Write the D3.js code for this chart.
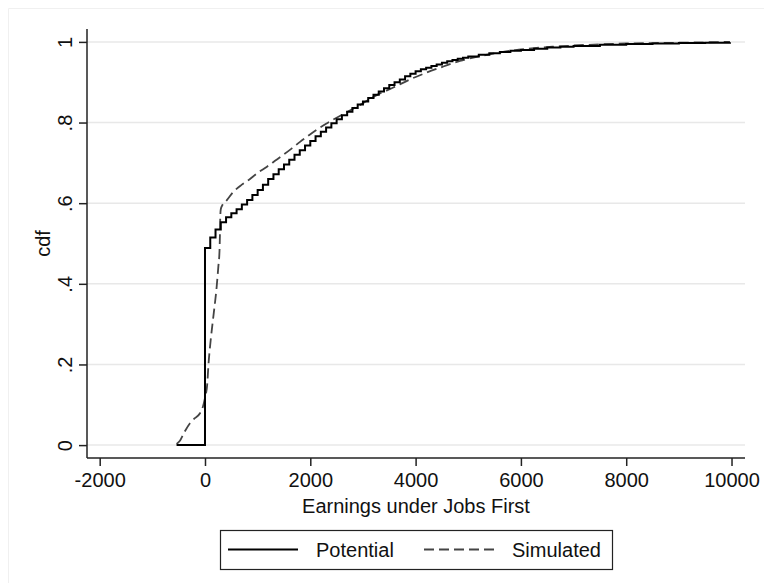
<!DOCTYPE html>
<html>
<head>
<meta charset="utf-8">
<script src="https://cdn.jsdelivr.net/npm/d3@7"></script>
<style>
  body { margin: 0; background: #fff; }
  svg { display: block; font-family: "Liberation Sans", Arial, sans-serif; }
</style>
</head>
<body>
<div id="chart"></div>
<script>
// potential earnings cdf (step function)
var potentialX = [-540, 0, 100, 200, 300, 400, 500, 600, 700, 800, 900,
    1000, 1100, 1200, 1300, 1400, 1500, 1600, 1700, 1800, 1900,
    2000, 2100, 2200, 2300, 2400, 2500, 2600, 2700, 2800, 2900,
    3000, 3100, 3200, 3300, 3400, 3500, 3600, 3700, 3800, 3900,
    4000, 4100, 4200, 4300, 4400, 4500, 4600, 4700, 4800, 4900,
    5000, 5200, 5400, 5600, 5800, 6000, 6250, 6500, 6750, 7000,
    7500, 8000, 8500, 9000, 9500, 9970];
var potentialY = [0, 0.489, 0.515, 0.535, 0.553, 0.565, 0.575, 0.585, 0.597, 0.608, 0.620,
    0.633, 0.646, 0.660, 0.672, 0.684, 0.696, 0.708, 0.720, 0.731, 0.743,
    0.754, 0.766, 0.777, 0.788, 0.798, 0.808, 0.818, 0.827, 0.836, 0.845,
    0.852, 0.861, 0.869, 0.877, 0.885, 0.893, 0.900, 0.907, 0.915, 0.921,
    0.927, 0.932, 0.936, 0.940, 0.944, 0.948, 0.952, 0.955, 0.958, 0.961,
    0.964, 0.968, 0.972, 0.975, 0.978, 0.980, 0.983, 0.986, 0.988, 0.990,
    0.993, 0.995, 0.996, 0.997, 0.998, 0.999];

// simulated earnings cdf
var simulatedX = [-540, -480, -400, -285, -200, -95, -40, 0, 44, 63, 108, 158, 222, 253,
    275, 285, 290, 300, 330, 412, 538, 700, 855, 1000, 1171, 1330, 1488, 1650, 1805,
    1960, 2121, 2300, 2500, 2700, 3000, 3261, 3577, 3894, 4210, 4527, 4843, 5160,
    5477, 5800, 6200, 6600, 7000, 7500, 8000, 8500, 9000, 9500, 9970];
var simulatedY = [0.003, 0.01, 0.03, 0.054, 0.066, 0.079, 0.095, 0.117, 0.153, 0.194, 0.26, 0.318, 0.393, 0.442,
    0.48, 0.53, 0.565, 0.585, 0.595, 0.607, 0.628, 0.646, 0.660, 0.675, 0.690, 0.705, 0.720, 0.736, 0.752,
    0.767, 0.782, 0.797, 0.812, 0.826, 0.848, 0.868, 0.887, 0.907, 0.924, 0.939, 0.953, 0.963,
    0.971, 0.978, 0.984, 0.988, 0.991, 0.994, 0.996, 0.997, 0.998, 0.999, 1.0];

var xTicks = [-2000, 0, 2000, 4000, 6000, 8000, 10000];
var yTicks = [0, 0.2, 0.4, 0.6, 0.8, 1];
var yTickLabels = ['0', '.2', '.4', '.6', '.8', '1'];
var seriesNames = ['Potential', 'Simulated'];

var width = 764, height = 583;
var plot = { left: 87, right: 745, top: 29, bottom: 458 };

var svg = d3.select('#chart').append('svg')
    .attr('width', width)
    .attr('height', height);

svg.append('rect').attr('width', width).attr('height', height).attr('fill', '#fff');

// faint outer frame
svg.append('path')
    .attr('d', 'M8.5,' + height + 'V8.5H' + width)
    .attr('fill', 'none')
    .attr('stroke', '#f0f0f0');

var x = d3.scaleLinear().domain([-2241, 10256]).range([plot.left, plot.right]);
var y = d3.scaleLinear().domain([-0.032, 1.032]).range([plot.bottom, plot.top]);

// grid
svg.append('g').selectAll('line')
    .data(yTicks)
    .enter().append('line')
    .attr('x1', plot.left).attr('x2', plot.right)
    .attr('y1', function(d) { return y(d); })
    .attr('y2', function(d) { return y(d); })
    .style('stroke', '#e8e8e8')
    .style('stroke-width', 1.5);

// axes
var xAxis = svg.append('g')
    .attr('transform', 'translate(0,' + plot.bottom + ')')
    .call(d3.axisBottom(x).tickValues(xTicks).tickSize(8).tickFormat(function(d) { return String(d); }));
xAxis.select('.domain').attr('d', 'M' + plot.left + ',0H' + plot.right);

var yAxis = svg.append('g')
    .attr('transform', 'translate(' + plot.left + ',0)')
    .call(d3.axisLeft(y).tickValues(yTicks).tickSize(8).tickFormat(function(d, i) { return yTickLabels[i]; }));
yAxis.select('.domain').attr('d', 'M0,' + plot.top + 'V' + plot.bottom);

svg.selectAll('.domain, .tick line').style('stroke', '#222').style('stroke-width', 1.5);
svg.selectAll('.tick text').style('font-size', '20px').style('fill', '#111').style('font-family', '"Liberation Sans", Arial, sans-serif');

xAxis.selectAll('.tick text').attr('y', 14).attr('dy', '0.75em');

yAxis.selectAll('.tick text')
    .attr('x', null).attr('dy', null)
    .attr('text-anchor', 'middle')
    .attr('transform', 'translate(-15,0) rotate(-90)');

// axis titles
svg.append('text')
    .attr('x', (plot.left + plot.right) / 2)
    .attr('y', 513)
    .attr('text-anchor', 'middle')
    .style('font-size', '20px')
    .style('fill', '#111')
    .text('Earnings under Jobs First');

svg.append('text')
    .attr('transform', 'translate(50,' + (plot.top + plot.bottom) / 2 + ') rotate(-90)')
    .attr('text-anchor', 'middle')
    .style('font-size', '20px')
    .style('fill', '#111')
    .text('cdf');

// lines
var potential = potentialX.map(function(d, i) { return [d, potentialY[i]]; });
var simulated = simulatedX.map(function(d, i) { return [d, simulatedY[i]]; });

var stepLine = d3.line()
    .x(function(d) { return x(d[0]); })
    .y(function(d) { return y(d[1]); })
    .curve(d3.curveStepAfter);

var smoothLine = d3.line()
    .x(function(d) { return x(d[0]); })
    .y(function(d) { return y(d[1]); })
    .curve(d3.curveMonotoneX);

svg.append('path')
    .datum(simulated)
    .attr('d', smoothLine)
    .attr('fill', 'none')
    .style('stroke', '#444')
    .style('stroke-width', 1.8)
    .style('stroke-dasharray', '10,5');

svg.append('path')
    .datum(potential)
    .attr('d', stepLine)
    .attr('fill', 'none')
    .style('stroke', '#000')
    .style('stroke-width', 2)
    .style('stroke-linejoin', 'miter');

// legend
var legend = svg.append('g');
legend.append('rect')
    .attr('x', 220.5).attr('y', 530.5)
    .attr('width', 392).attr('height', 39)
    .attr('fill', '#fff')
    .style('stroke', '#222')
    .style('stroke-width', 1.2);

var legendItems = [
    { name: seriesNames[0], x1: 228, x2: 298, tx: 316, color: '#000', dash: null, w: 2 },
    { name: seriesNames[1], x1: 424, x2: 498, tx: 512, color: '#444', dash: '10,5', w: 1.8 }
];

var items = legend.selectAll('g.item')
    .data(legendItems)
    .enter().append('g');

items.append('line')
    .attr('x1', function(d) { return d.x1; })
    .attr('x2', function(d) { return d.x2; })
    .attr('y1', 549.5).attr('y2', 549.5)
    .style('stroke', function(d) { return d.color; })
    .style('stroke-width', function(d) { return d.w; })
    .style('stroke-dasharray', function(d) { return d.dash; });

items.append('text')
    .attr('x', function(d) { return d.tx; })
    .attr('y', 557)
    .style('font-size', '20px')
    .style('fill', '#111')
    .text(function(d) { return d.name; });
</script>
</body>
</html>
